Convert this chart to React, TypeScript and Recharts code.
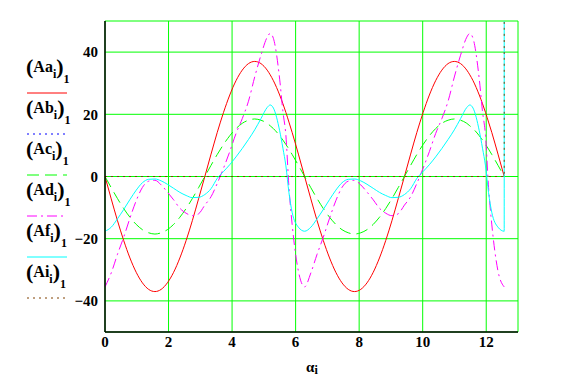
import React from "react";
import { LineChart, Line, XAxis, YAxis, CartesianGrid } from "recharts";

// alpha_i samples; a few extra points around the sharp peaks / drops,
// last point repeated for the traces that blow up at 4*pi
const alpha = [
  0, 0.196, 0.393, 0.589, 0.785, 0.982, 1.178, 1.374, 1.571, 1.767, 1.963, 2.16, 2.356, 2.553, 2.749, 2.945,
  3.142, 3.338, 3.534, 3.731, 3.927, 4.123, 4.32, 4.516, 4.712, 4.909,
  5.105, 5.2, 5.301, 5.498, 5.6, 5.694, 5.79, 5.89, 6.087,
  6.283, 6.479, 6.676, 6.872, 7.069, 7.265, 7.461, 7.658, 7.854, 8.05, 8.247, 8.443, 8.639, 8.836, 9.032, 9.228,
  9.425, 9.621, 9.817, 10.014, 10.21, 10.407, 10.603, 10.799, 10.996, 11.192,
  11.388, 11.483, 11.585, 11.781, 11.883, 11.977, 12.073, 12.174, 12.37,
  12.566, 12.566,
];

const Aa = [
  0, -7.2, -14.2, -20.6, -26.2, -30.8, -34.2, -36.3, -37, -36.3, -34.2, -30.8, -26.2, -20.6, -14.2, -7.2,
  0, 7.2, 14.2, 20.6, 26.2, 30.8, 34.2, 36.3, 37, 36.3,
  34.2, 32.7, 30.8, 26.2, 23.4, 20.6, 17.5, 14.2, 7.2,
  0, -7.2, -14.2, -20.6, -26.2, -30.8, -34.2, -36.3, -37, -36.3, -34.2, -30.8, -26.2, -20.6, -14.2, -7.2,
  0, 7.2, 14.2, 20.6, 26.2, 30.8, 34.2, 36.3, 37, 36.3,
  34.2, 32.7, 30.8, 26.2, 23.4, 20.6, 17.5, 14.2, 7.2,
  0, 0,
];

const Ab = [
  0, 0, 0, 0, 0, 0, 0, 0, 0, 0, 0, 0, 0, 0, 0, 0,
  0, 0, 0, 0, 0, 0, 0, 0, 0, 0,
  0, 0, 0, 0, 0, 0, 0, 0, 0,
  0, 0, 0, 0, 0, 0, 0, 0, 0, 0, 0, 0, 0, 0, 0, 0,
  0, 0, 0, 0, 0, 0, 0, 0, 0, 0,
  0, 0, 0, 0, 0, 0, 0, 0, 0,
  0, 0,
];

const Ac = [
  0, -3.6, -7.1, -10.3, -13.1, -15.4, -17.1, -18.1, -18.5, -18.1, -17.1, -15.4, -13.1, -10.3, -7.1, -3.6,
  0, 3.6, 7.1, 10.3, 13.1, 15.4, 17.1, 18.1, 18.5, 18.1,
  17.1, 16.3, 15.4, 13.1, 11.7, 10.3, 8.8, 7.1, 3.6,
  0, -3.6, -7.1, -10.3, -13.1, -15.4, -17.1, -18.1, -18.5, -18.1, -17.1, -15.4, -13.1, -10.3, -7.1, -3.6,
  0, 3.6, 7.1, 10.3, 13.1, 15.4, 17.1, 18.1, 18.5, 18.1,
  17.1, 16.3, 15.4, 13.1, 11.7, 10.3, 8.8, 7.1, 3.6,
  0, 0,
];

const Ad = [
  -35.5, -31, -25, -19.5, -13.4, -7.8, -3.5, -1.5, -1.2, -2.7, -5, -7.5, -10.2, -11.8, -12.6, -12,
  -9.2, -6.5, -2.2, 2.7, 8, 13.8, 18.6, 24.2, 32, 39,
  44.8, 46, 44.4, 31.3, 20.9, 13.2, -3.5, -15.3, -30.4,
  -35.5, -31, -25, -19.5, -13.4, -7.8, -3.5, -1.5, -1.2, -2.7, -5, -7.5, -10.2, -11.8, -12.6, -12,
  -9.2, -6.5, -2.2, 2.7, 8, 13.8, 18.6, 24.2, 32, 39,
  44.8, 46, 44.4, 31.3, 20.9, 13.2, -3.5, -15.3, -30.4,
  -35.5, -35.5,
];

const Af = [
  -17.6, -16.3, -13.6, -10.6, -7.4, -4.4, -2, -0.9, -0.8, -1.4, -2.5, -3.8, -5.1, -6.1, -6.8, -6.7,
  -5.8, -3.9, -0.6, 1.6, 3.8, 6.3, 9, 11.9, 15, 18.6,
  22.2, 23, 22, 14.7, 9.1, 3.4, -5.2, -11.5, -16.3,
  -17.6, -16.3, -13.6, -10.6, -7.4, -4.4, -2, -0.9, -0.8, -1.4, -2.5, -3.8, -5.1, -6.1, -6.8, -6.7,
  -5.8, -3.9, -0.6, 1.6, 3.8, 6.3, 9, 11.9, 15, 18.6,
  22.2, 23, 22, 14.7, 9.1, 3.4, -5.2, -11.5, -16.3,
  -17.6, 300,
];

const Ai = [
  0, 0, 0, 0, 0, 0, 0, 0, 0, 0, 0, 0, 0, 0, 0, 0,
  0, 0, 0, 0, 0, 0, 0, 0, 0, 0,
  0, 0, 0, 0, 0, 0, 0, 0, 0,
  0, 0, 0, 0, 0, 0, 0, 0, 0, 0, 0, 0, 0, 0, 0, 0,
  0, 0, 0, 0, 0, 0, 0, 0, 0, 0,
  0, 0, 0, 0, 0, 0, 0, 0, 0,
  0, 300,
];

const xTicks = [0, 2, 4, 6, 8, 10, 12];
const yTicks = [-40, -20, 0, 20, 40];

const rows = alpha.map((a, i) => ({
  alpha: a,
  Aa: Aa[i],
  Ab: Ab[i],
  Ac: Ac[i],
  Ad: Ad[i],
  Af: Af[i],
  Ai: Ai[i],
}));

const traces = [
  { key: "Aa", color: "#ff0000", dash: undefined },
  { key: "Ab", color: "#0000ff", dash: "2 4" },
  { key: "Ac", color: "#00ff00", dash: "12 6" },
  { key: "Ad", color: "#ff00ff", dash: "10 4 2 4" },
  { key: "Af", color: "#00ffff", dash: undefined },
  { key: "Ai", color: "#804000", dash: "2 4" },
];

const serif = "'Liberation Serif', 'Times New Roman', serif";
const tickStyle = { fill: "#000", fontSize: 15, fontWeight: "bold", fontFamily: serif };
const frame = { stroke: "#000", strokeWidth: 1.5 };

const fmt = (v: number) => (v < 0 ? `\u2212${-v}` : `${v}`);

const Legend = () => (
  <svg
    width={563}
    height={392}
    style={{ position: "absolute", left: 0, top: 0, pointerEvents: "none" }}
  >
    {traces.map((t, i) => {
      const base = 72 + i * 41;
      return (
        <g key={t.key}>
          <text x={26} y={base} fontFamily={serif} fontWeight="bold" fill="#000">
            <tspan fontSize={22} dy={1.5}>(</tspan>
            <tspan fontSize={16} dy={-1.5}>{t.key}</tspan>
            <tspan fontSize={12} dy={6.3}>i</tspan>
            <tspan fontSize={22} dy={-4.8}>)</tspan>
            <tspan fontSize={12} dy={9.8}>1</tspan>
          </text>
          <line
            x1={27}
            x2={67}
            y1={base + 21}
            y2={base + 21}
            stroke={t.color}
            strokeWidth={1}
            strokeDasharray={t.dash}
          />
        </g>
      );
    })}
    <text x={306} y={372} fontFamily={serif} fontWeight="bold" fill="#000">
      <tspan fontSize={15}>α</tspan>
      <tspan fontSize={12} dy={2}>i</tspan>
    </text>
  </svg>
);

export default function App() {
  return (
    <div style={{ position: "fixed", left: 0, top: 0, width: 563, height: 392, background: "#fff" }}>
      <LineChart width={563} height={392} data={rows} margin={{ top: 21, right: 45, bottom: 0, left: 0 }}>
        <CartesianGrid stroke="#00ff00" strokeWidth={1} />
        <XAxis
          dataKey="alpha"
          type="number"
          domain={[0, 13]}
          ticks={xTicks}
          height={60}
          tickSize={0}
          tickMargin={4}
          axisLine={frame}
          tick={tickStyle}
          allowDataOverflow
        />
        <XAxis
          xAxisId="top"
          orientation="top"
          type="number"
          domain={[0, 13]}
          height={0}
          tick={false}
          tickLine={false}
          axisLine={frame}
        />
        <YAxis
          type="number"
          domain={[-50, 50]}
          ticks={yTicks}
          width={105}
          tickSize={0}
          tickMargin={7}
          axisLine={frame}
          tick={tickStyle}
          tickFormatter={fmt}
          allowDataOverflow
        />
        <YAxis
          yAxisId="right"
          orientation="right"
          type="number"
          domain={[-50, 50]}
          width={0}
          tick={false}
          tickLine={false}
          axisLine={frame}
        />
        {traces.map((t) => (
          <Line
            key={t.key}
            dataKey={t.key}
            type="monotone"
            stroke={t.color}
            strokeWidth={1}
            strokeDasharray={t.dash}
            dot={false}
            isAnimationActive={false}
          />
        ))}
      </LineChart>
      <Legend />
    </div>
  );
}
